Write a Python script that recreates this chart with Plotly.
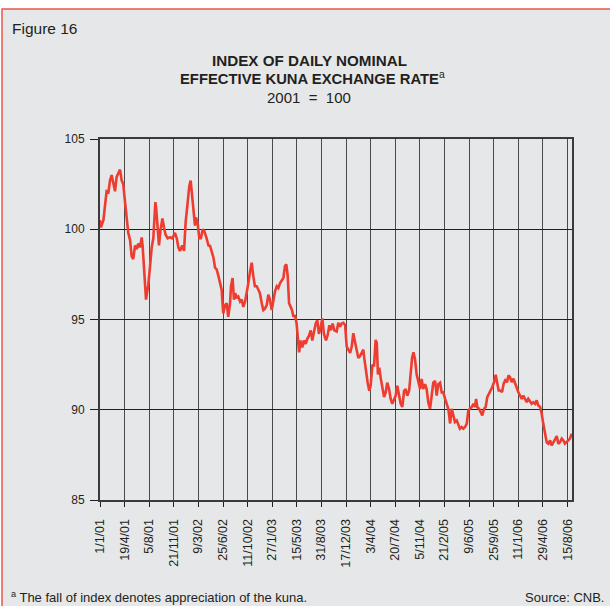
import pandas as pd
import plotly.graph_objects as go

# days since 1 Jan 2001 and index values
day_offsets = [
    0, 4, 15, 22, 29, 37, 44, 51, 58, 66, 73, 80, 88, 95, 102, 110, 117, 124, 132, 139,
    146, 154, 161, 168, 176, 183, 187, 193, 198, 202, 208, 212, 220, 227, 234, 238, 243, 247, 253, 259,
    265, 274, 281, 288, 297, 307, 318, 329, 337, 344, 351, 361, 369, 376, 385, 392, 398, 404, 411, 417,
    421, 429, 436, 443, 451, 458, 468, 476,
    483, 490, 498, 505, 512, 520, 527, 534, 541, 549, 556, 563, 571, 575, 582, 588, 594, 600, 607, 615,
    622, 629, 637, 644, 651, 659, 666, 673, 680, 688, 695, 702, 710, 717, 724, 732, 739, 746, 754, 761,
    768, 776, 783, 790, 798, 805, 812, 818, 824, 830, 837, 843, 849, 856, 863, 868, 874, 881, 888, 896,
    903, 910, 918, 925, 932, 939, 947, 954, 961, 969, 976, 983, 992, 999, 1007, 1014, 1021, 1029,
    1039, 1046, 1054, 1061, 1068, 1076, 1083, 1090, 1098, 1105, 1112, 1119, 1127, 1134, 1141, 1149,
    1156, 1160, 1168, 1175, 1182, 1188, 1196, 1203, 1210, 1215, 1220, 1226, 1232, 1239, 1247, 1254,
    1261, 1269, 1276, 1283, 1291, 1298, 1305, 1313, 1320, 1327, 1335, 1342, 1349, 1357, 1364, 1370,
    1376, 1383, 1390, 1397, 1405, 1412, 1419, 1427, 1434, 1441, 1449, 1456, 1463, 1471, 1478, 1485,
    1493, 1500, 1507, 1515, 1522, 1529, 1537, 1544,
    1551, 1558, 1566, 1573, 1580, 1588, 1595, 1602, 1610, 1617, 1624, 1632, 1639, 1646, 1651, 1656,
    1664, 1671, 1678, 1686, 1693, 1700, 1708, 1715, 1722, 1730, 1737, 1743, 1750, 1757, 1765, 1772,
    1779, 1787, 1793, 1800, 1807, 1815, 1822, 1829, 1836, 1844, 1851, 1858, 1866, 1873, 1880, 1888,
    1895, 1902, 1910, 1917, 1924, 1932, 1939, 1946, 1954, 1961, 1968, 1976, 1983, 1990, 1997, 2005,
    2012, 2019, 2027, 2034, 2041, 2049, 2056, 2063, 2071,
]
index_values = [
    100.5, 100.1, 100.5, 101.5, 102.1, 102.05, 102.7, 103.0, 102.5, 102.1, 102.9, 103.1, 103.3, 102.7, 102.5, 101.5, 100.75, 99.8, 99.4, 98.5,
    98.35, 99.1, 98.9, 99.2, 99.0, 99.55, 99.1, 98.0, 96.7, 96.1, 96.6, 96.9, 98.0, 99.0, 99.5, 100.76, 101.5, 101.1, 99.8, 99.1,
    99.9, 100.6, 100.1, 99.7, 99.5, 99.55, 99.5, 99.8, 99.5, 99.0, 98.8, 99.1, 98.8, 100.4, 101.5, 102.4, 102.7, 101.9, 100.85, 100.2,
    100.66, 100.3, 99.5, 99.5, 100.0, 99.9, 99.5, 99.1,
    99.08, 98.8, 98.43, 97.87, 97.77, 97.4, 96.93, 96.65, 95.34, 95.8, 95.9, 95.15, 95.9, 96.84, 97.3, 96.1, 96.46, 96.18, 96.27, 96.0,
    96.1, 95.7, 96.0, 96.46, 97.0, 97.68, 98.15, 97.4, 96.84, 96.84, 96.65, 96.46, 95.9, 95.52, 95.6, 95.8, 96.37, 96.1, 95.52, 96.18,
    96.55, 96.84, 96.74, 97.0, 97.2, 97.3, 97.96, 98.05, 97.4, 95.9, 95.7, 95.52, 95.15, 95.24, 94.78, 93.93, 93.18, 93.84, 93.46, 93.84,
    93.65, 93.93, 94.12, 94.4, 93.84, 94.3, 94.78, 94.96, 94.2, 94.6, 95.06, 94.2, 93.84, 94.12, 94.68, 94.4, 94.78, 94.4,
    94.33, 94.82, 94.6, 94.78, 94.82, 94.7, 93.5, 93.33, 93.15, 93.5, 94.24, 93.78, 93.33, 92.87, 92.96, 93.15,
    93.33, 92.87, 92.05, 91.5, 91.05, 91.33, 92.5, 92.4, 93.87, 93.7, 91.96, 92.33, 91.78, 91.15, 90.7, 90.96,
    91.5, 91.15, 90.6, 90.33, 90.6, 90.78, 91.33, 90.87, 90.33, 90.15, 91.05, 91.15, 90.78, 91.05, 91.87, 92.87,
    93.18, 92.78, 91.96, 91.5, 91.15, 91.7, 91.15, 91.42, 91.15, 90.42, 90.05, 90.78, 91.5, 91.6, 90.78, 91.42,
    91.5, 90.96, 90.96, 90.6, 90.24, 90.05, 89.24, 90.05,
    89.7, 89.32, 89.41, 89.13, 88.95, 89.04, 88.95, 89.04, 89.22, 89.96, 90.06, 90.15, 90.33, 90.15, 90.6, 90.15,
    90.06, 89.87, 89.69, 90.06, 90.15, 90.7, 90.89, 91.07, 91.26, 91.53, 91.94, 91.53, 91.07, 91.07, 90.98, 91.44,
    91.63, 91.53, 91.9, 91.81, 91.53, 91.72, 91.44, 91.26, 90.98, 90.79, 90.6, 90.79, 90.6, 90.42, 90.6, 90.42,
    90.33, 90.42, 90.33, 90.52, 90.24, 90.15, 89.78, 89.22, 88.67, 88.2, 88.12, 88.3, 88.02, 88.2, 88.4, 88.54,
    88.12, 88.2, 88.4, 88.3, 88.12, 88.2, 88.3, 88.4, 88.67,
]

tick_dates = ["2001-01-01", "2001-04-19", "2001-08-05", "2001-11-21", "2002-03-09", "2002-06-25",
              "2002-10-11", "2003-01-27", "2003-05-15", "2003-08-31", "2003-12-17", "2004-04-03",
              "2004-07-20", "2004-11-05", "2005-02-21", "2005-06-09", "2005-09-25", "2006-01-11",
              "2006-04-29", "2006-08-15"]
tick_labels = ["1/1/01", "19/4/01", "5/8/01", "21/11/01", "9/3/02", "25/6/02", "11/10/02", "27/1/03",
               "15/5/03", "31/8/03", "17/12/03", "3/4/04", "20/7/04", "5/11/04", "21/2/05", "9/6/05",
               "25/9/05", "11/1/06", "29/4/06", "15/8/06"]
y_ticks = [85, 90, 95, 100, 105]

dates = pd.Timestamp("2001-01-01") + pd.to_timedelta(day_offsets, unit="D")

FONT = "Liberation Sans, Arial, Helvetica, sans-serif"
BG = "#e6e7e8"
INK = "#231f20"

fig = go.Figure()
fig.add_trace(go.Scatter(x=dates, y=index_values, mode="lines",
                         line=dict(color="#ee3d30", width=2.6), hoverinfo="skip"))

W, H = 610, 606
L, R, T, B = 100, 38, 139, 106
pw, ph = W - L - R, H - T - B

def px(x):
    return (x - L) / pw

def py(y):
    return (H - B - y) / ph

NB = "\u00a0"

fig.update_layout(
    width=W, height=H,
    margin=dict(l=L, r=R, t=T, b=B),
    paper_bgcolor="white",
    plot_bgcolor="rgba(0,0,0,0)",
    showlegend=False,
    font=dict(family=FONT, color=INK, size=12),
    xaxis=dict(
        type="date",
        range=["2001-01-01", "2006-09-04"],
        tickmode="array", tickvals=tick_dates, ticktext=tick_labels,
        tickangle=-90, tickfont=dict(size=12.5, family=FONT, color=INK),
        ticks="outside", ticklen=5, tickcolor=INK, ticklabelstandoff=7,
        showgrid=True, gridcolor="#4a4a4a", gridwidth=1.2,
        showline=True, linecolor="#3a3a3a", linewidth=2, mirror=True,
        zeroline=False, fixedrange=True,
    ),
    yaxis=dict(
        range=[85, 105],
        tickmode="array", tickvals=y_ticks,
        tickfont=dict(size=12, family=FONT, color=INK),
        ticks="outside", ticklen=8, tickcolor=INK, ticklabelstandoff=3,
        showgrid=True, gridcolor=INK, gridwidth=1.3,
        showline=True, linecolor="#3a3a3a", linewidth=2, mirror=True,
        zeroline=False, fixedrange=True,
    ),
    shapes=[
        dict(type="rect", xref="paper", yref="paper", layer="below",
             x0=px(2), x1=px(W + 20), y0=py(H + 20), y1=py(9),
             fillcolor=BG, line=dict(color="#e8574a", width=1.5)),
    ],
    annotations=[
        dict(text="Figure 16", xref="paper", yref="paper", x=px(9.5), y=py(28),
             xanchor="left", yanchor="middle", showarrow=False,
             font=dict(size=15.5, family=FONT, color=INK)),
        dict(text="<b>INDEX OF DAILY NOMINAL</b>", xref="paper", yref="paper",
             x=px(309), y=py(60), xanchor="center", yanchor="middle", showarrow=False,
             font=dict(size=15.2, family=FONT, color=INK)),
        dict(text="<b>EFFECTIVE KUNA EXCHANGE RATE</b><sup>a</sup>", xref="paper", yref="paper",
             x=px(312), y=py(78), xanchor="center", yanchor="middle", showarrow=False,
             font=dict(size=14.8, family=FONT, color=INK)),
        dict(text="2001" + NB + NB + "=" + NB + NB + "100", xref="paper", yref="paper",
             x=px(309), y=py(97), xanchor="center", yanchor="middle", showarrow=False,
             font=dict(size=15, family=FONT, color=INK)),
        dict(text="<sup>a</sup> The fall of index denotes appreciation of the kuna.",
             xref="paper", yref="paper", x=px(9), y=py(597),
             xanchor="left", yanchor="middle", showarrow=False,
             font=dict(size=13, family=FONT, color=INK)),
        dict(text="Source: CNB.", xref="paper", yref="paper", x=px(606), y=py(597),
             xanchor="right", yanchor="middle", showarrow=False,
             font=dict(size=13, family=FONT, color=INK)),
    ],
)

fig.write_html("out.html", config={"displayModeBar": False},
               post_script="document.body.style.margin='0';")
